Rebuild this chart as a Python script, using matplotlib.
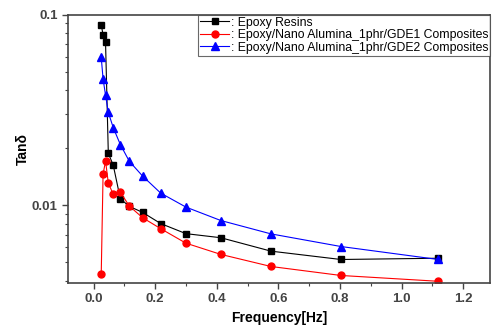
import numpy as np
import matplotlib
matplotlib.use("Agg")
import matplotlib.pyplot as plt
from matplotlib.ticker import FixedLocator, NullFormatter, MultipleLocator

plt.rcParams['font.family'] = ['Liberation Sans', 'DejaVu Sans']

# frequences (Hz), meme grille pour les trois series
freq = [0.025, 0.031, 0.039, 0.048, 0.064, 0.087, 0.116, 0.159, 0.218,
        0.300, 0.413, 0.576, 0.803, 1.119]

# tan delta
tan_resin = [0.0883, 0.0785, 0.0716, 0.0187, 0.0162, 0.0108, 0.00985, 0.00916,
             0.0080, 0.00708, 0.00674, 0.00573, 0.00518, 0.00526]
tan_gde1 = [0.00433, 0.01452, 0.01706, 0.01306, 0.01138, 0.01170, 0.00989,
            0.00859, 0.00752, 0.00631, 0.00551, 0.00476, 0.00427, 0.00398]
tan_gde2 = [0.0597, 0.0460, 0.0378, 0.0307, 0.0255, 0.0208, 0.0170, 0.01422,
            0.01156, 0.00976, 0.00830, 0.00706, 0.00606, 0.00518]

labels = [": Epoxy Resins",
          ": Epoxy/Nano Alumina_1phr/GDE1 Composites",
          ": Epoxy/Nano Alumina_1phr/GDE2 Composites"]

fig = plt.figure(figsize=(4.96, 3.26), dpi=100)
ax = fig.add_axes([0.137, 0.132, 0.851, 0.823])

ax.plot(freq, tan_resin, color='black', marker='s', ms=5, lw=0.8, label=labels[0])
ax.plot(freq, tan_gde1, color='red', marker='o', ms=5, lw=0.8, label=labels[1])
ax.plot(freq, tan_gde2, color='blue', marker='^', ms=5.5, lw=0.8, label=labels[2])

ax.set_yscale('log')
ax.set_xlim(-0.083, 1.287)
ax.set_ylim(0.0039, 0.1)

ax.xaxis.set_major_locator(MultipleLocator(0.2))
ax.xaxis.set_minor_locator(MultipleLocator(0.1))
ax.yaxis.set_major_locator(FixedLocator([0.01, 0.1]))
ax.set_yticklabels(["0.01", "0.1"])
ax.yaxis.set_minor_locator(FixedLocator([k * 0.001 for k in range(4, 10)] +
                                        [k * 0.01 for k in range(2, 10)]))
ax.yaxis.set_minor_formatter(NullFormatter())

ax.tick_params(which='both', direction='out', color='#444444', labelcolor='#444444',
               labelsize=9.5, top=False, right=False)
ax.tick_params(which='major', length=4, width=1)
ax.tick_params(which='minor', length=2.5, width=0.8)
for t in ax.get_xticklabels() + ax.get_yticklabels():
    t.set_fontweight('bold')

for s in ax.spines.values():
    s.set_color('#444444')
    s.set_linewidth(1.2)

ax.set_xlabel("Frequency[Hz]", fontsize=10, fontweight='bold', labelpad=4)
ax.set_ylabel("Tanδ", fontsize=10, fontweight='bold', labelpad=1)

leg = ax.legend(loc='upper right', fontsize=8.8, frameon=True, fancybox=False,
                edgecolor='#444444', borderpad=0.15, labelspacing=0.05,
                handlelength=2.4, handletextpad=0.1, borderaxespad=0.0)
leg.get_frame().set_linewidth(0.8)

fig.savefig("out.png", dpi=100)
